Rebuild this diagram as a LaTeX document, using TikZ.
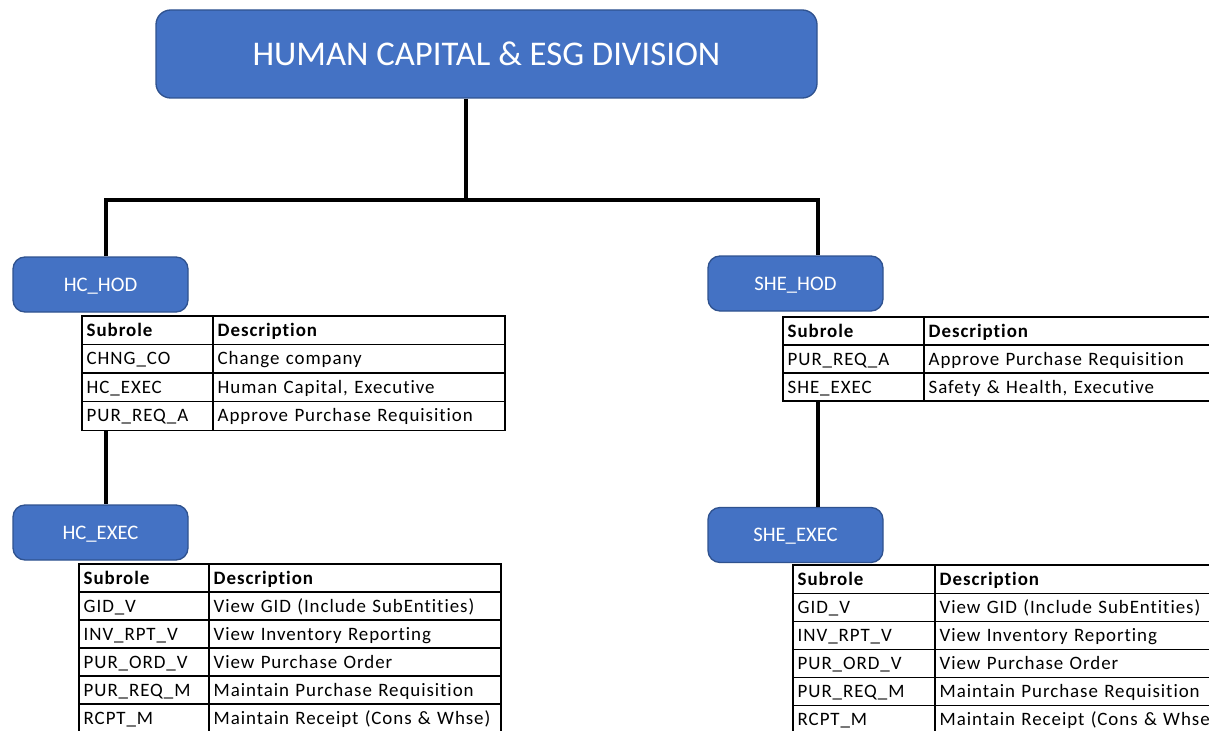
\documentclass[tikz,border=0pt]{standalone}
\usepackage{fontspec}
\setmainfont{Carlito}
\newfontfamily\cellfont[LetterSpace=5, Ligatures=NoCommon]{Carlito}
\usepackage{xcolor}
\usetikzlibrary{positioning}
\definecolor{roleblue}{HTML}{4472C4}
\definecolor{roleedge}{HTML}{2F528F}

% #1 name, #2 top left, #3/#4 text widths, #5 row height, #6 rows
\newcommand{\roletable}[6]{%
  \node[cell, text width=#3, minimum height=#5, anchor=north west] (#1-0-1) at (#2) {\textbf{Subrole}};
  \node[cell, text width=#4, minimum height=#5, anchor=north west] (#1-0-2) at (#1-0-1.north east) {\textbf{Description}};
  \foreach \code/\desc [count=\r] in {#6} {
    \pgfmathtruncatemacro{\prev}{\r-1}
    \node[cell, text width=#3, minimum height=#5, anchor=north west] (#1-\r-1) at (#1-\prev-1.south west) {\code};
    \node[cell, text width=#4, minimum height=#5, anchor=north west] (#1-\r-2) at (#1-\r-1.north east) {\desc};
  }%
}

\begin{document}
\begin{tikzpicture}[
    x=0.75pt, y=-0.75pt,
    head/.style={
      rectangle,
      draw=roleedge,
      line width=1pt,
      fill=roleblue,
      rounded corners=9pt,
      text=white,
      text depth=0pt,
      minimum width=131.25pt, % role box
      minimum height=41.25pt,
      font=\fontsize{15.5}{17}\selectfont
    },
    division/.style={
      head,
      rounded corners=11pt,
      minimum width=495.75pt,
      minimum height=66pt,
      font=\fontsize{26}{30}\selectfont
    },
    cell/.style={
      rectangle,
      draw=black,
      line width=0.9pt,
      inner xsep=3.5pt,
      inner ysep=0pt,
      outer sep=0pt,
      align=left,
      text height=9.1pt,
      text depth=0pt,
      font=\cellfont\fontsize{14.2}{16}\selectfont
    },
    link/.style={draw=black, line width=3pt}
  ]
  \useasboundingbox (0,0) rectangle (1209,731);
  \clip (0,0) rectangle (1209,731);

  % branch points
  \coordinate (bus) at (466,200);
  \coordinate (lbus) at (106,200);
  \coordinate (rbus) at (818,200);

  \node[division] (div) at (486.5,54) {HUMAN CAPITAL \& ESG DIVISION};

  \node[head] (hchod) at (100.5,284.5) {HC\_HOD};
  \node[head] (hcexec) at (100.5,532.5) {HC\_EXEC};
  \node[head] (shehod) at (795.5,283.5) {SHE\_HOD};
  \node[head] (sheexec) at (795.5,535) {SHE\_EXEC};

  \roletable{hctop}{82,316}{91.25pt}{212pt}{21.4pt}{
    CHNG\_CO/Change company,
    HC\_EXEC/{Human Capital, Executive},
    PUR\_REQ\_A/Approve Purchase Requisition}
  \roletable{hcsub}{79,564}{90.5pt}{212pt}{21pt}{
    GID\_V/View GID (Include SubEntities),
    INV\_RPT\_V/View Inventory Reporting,
    PUR\_ORD\_V/View Purchase Order,
    PUR\_REQ\_M/Maintain Purchase Requisition,
    RCPT\_M/Maintain Receipt (Cons \& Whse)}
  \roletable{shetop}{783,317}{98.75pt}{218pt}{21pt}{
    PUR\_REQ\_A/Approve Purchase Requisition,
    SHE\_EXEC/{Safety \& Health, Executive}}
  \roletable{shesub}{793,565}{99.5pt}{218pt}{21.1pt}{
    GID\_V/View GID (Include SubEntities),
    INV\_RPT\_V/View Inventory Reporting,
    PUR\_ORD\_V/View Purchase Order,
    PUR\_REQ\_M/Maintain Purchase Requisition,
    RCPT\_M/Maintain Receipt (Cons \& Whse)}

  \draw[link] (div.south -| bus) -- (bus);
  \draw[link] (hchod.north -| lbus) -- (lbus) -- (rbus) -- (shehod.north -| rbus);
  \draw[link] (hctop-3-1.south -| lbus) -- (hcexec.north -| lbus);
  \draw[link] (shetop-2-1.south -| rbus) -- (sheexec.north -| rbus);
\end{tikzpicture}
\end{document}
